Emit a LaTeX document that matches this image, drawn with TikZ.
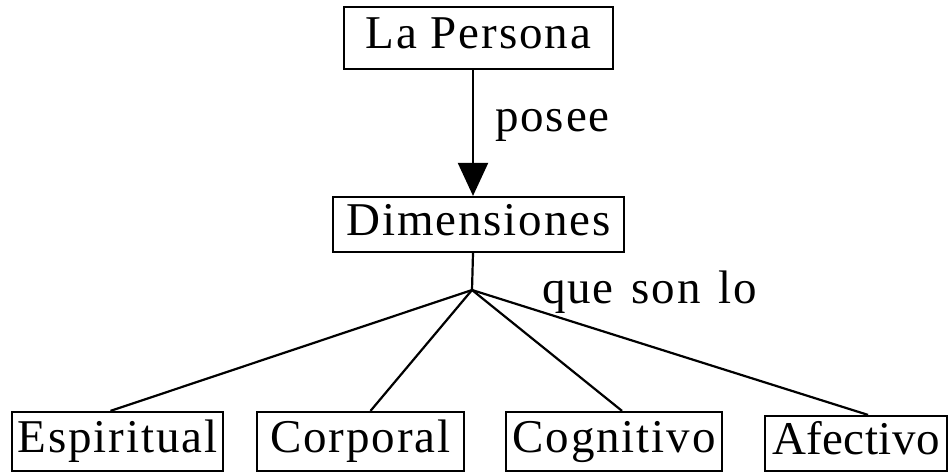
\documentclass[tikz,border=0pt]{standalone}
\usepackage{fontspec}
\setmainfont{Liberation Serif}[LetterSpace=4]
\usetikzlibrary{arrows.meta}

\tikzset{
  concept/.style={draw=black, line width=2.2pt, inner xsep=2pt, inner ysep=0pt,
    font=\fontsize{47}{50}\selectfont, text height=32pt, text depth=11pt},
  link/.style={black, line width=2.2pt},
  linklabel/.style={inner sep=0pt, font=\fontsize{47}{50}\selectfont}
}

\begin{document}
\begin{tikzpicture}[x=1pt, y=-1pt]
\useasboundingbox (0,0) rectangle (949,473);
% top of the map
\node[concept, minimum width=269pt, minimum height=62pt] (persona) at (478.5,38) {La Persona};
\node[concept, minimum width=291pt, minimum height=55pt] (dimen) at (478.5,224.5) {Dimensiones};
\draw [link, -{Triangle[width=30pt,length=33pt]}] ([xshift=-5.5pt]persona.south) -- ([xshift=-5.5pt]dimen.north);
\node[linklabel, anchor=base west] (posee) at (495,132) {posee};
% the four dimensions
\coordinate (junc) at (472,290);
\node[linklabel, anchor=base west] (queson) at (542,303) {\spaceskip=18pt que son lo};
\node[concept, minimum width=211pt, minimum height=59pt] (espir) at (117.5,441.5) {Espiritual};
\node[concept, minimum width=207pt, minimum height=59pt] (corp) at (360.5,441.5) {Corporal};
\node[concept, minimum width=216pt, minimum height=59pt] (cogn) at (614,441.5) {Cognitivo};
\node[concept, minimum width=182pt, minimum height=55pt, font=\fontsize{47}{50}\selectfont\addfontfeature{LetterSpace=1}] (afect) at (856,443.5) {Afectivo};
\draw [link] ([xshift=-5.5pt]dimen.south) -- (junc);
\draw [link] (junc) -- ([xshift=-7pt]espir.north);
\draw [link] (junc) -- ([xshift=10pt]corp.north);
\draw [link] (junc) -- ([xshift=8pt]cogn.north);
\draw [link] (junc) -- ([xshift=12pt]afect.north);
\end{tikzpicture}
\end{document}
